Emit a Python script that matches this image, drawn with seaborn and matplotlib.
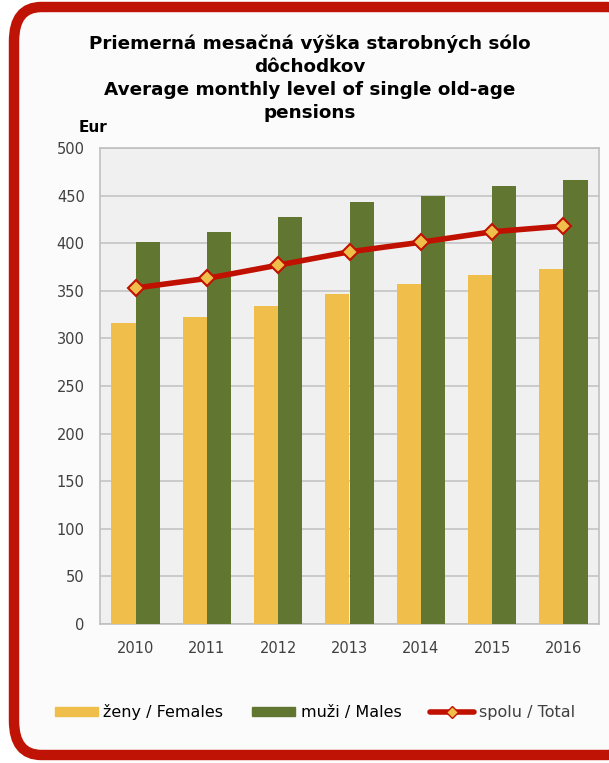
import matplotlib
matplotlib.use("Agg")
import matplotlib.pyplot as plt
import matplotlib.patches as mpatches
from matplotlib.lines import Line2D
import seaborn as sns
import pandas as pd

years = ["2010", "2011", "2012", "2013", "2014", "2015", "2016"]
females = [316, 322, 334, 347, 357, 367, 373]
males = [401, 412, 428, 443, 450, 460, 466]
total = [353, 363, 377, 391, 401, 412, 418]
series_names = ["ženy / Females", "muži / Males", "spolu / Total"]

c_fem = "#f0be4a"
c_male = "#617731"
c_tot = "#c01000"

sns.set_style("white")
plt.rcParams["font.family"] = ["DejaVu Sans"]

df = pd.DataFrame({
    "year": years * 2,
    "value": females + males,
    "sex": [series_names[0]] * len(years) + [series_names[1]] * len(years),
})

fig = plt.figure(figsize=(6.09, 7.63), dpi=100)
fig.patch.set_facecolor("white")

# red rounded frame
frame = mpatches.FancyBboxPatch((14 / 609, 8 / 763), 620 / 609, 748 / 763,
                                boxstyle="round,pad=0,rounding_size=0.045",
                                transform=fig.transFigure, facecolor="#fbfbfb",
                                edgecolor="#bf1405", linewidth=7.5, zorder=-10)
fig.patches.append(frame)

ax = fig.add_axes([100 / 609, 139 / 763, 499 / 609, 476 / 763])
ax.set_facecolor("#f0f0f0")

sns.barplot(data=df, x="year", y="value", hue="sex", palette=[c_fem, c_male],
            width=0.68, gap=0, saturation=1, errorbar=None, linewidth=0,
            ax=ax, zorder=3)
sns.pointplot(x=years, y=total, color=c_tot, markers="D", errorbar=None,
              markersize=8, markerfacecolor=c_fem, markeredgecolor=c_tot,
              markeredgewidth=1.5, linewidth=4, ax=ax, zorder=5)
if ax.get_legend() is not None:
    ax.get_legend().remove()

ax.set_ylim(0, 500)
ax.set_xlim(-0.5, 6.5)
ax.set_yticks(range(0, 501, 50))
ax.yaxis.grid(True, color="#c4c4c4", linewidth=1.2, zorder=0)
ax.set_axisbelow(True)
for s in ax.spines.values():
    s.set_color("#c0c0c0")
    s.set_linewidth(1.2)
ax.tick_params(axis="both", length=0, labelsize=10.5, labelcolor="#404040")
ax.tick_params(axis="x", pad=12)
ax.tick_params(axis="y", pad=11)
ax.set_xlabel("")
ax.set_ylabel("")

fig.text(93 / 609, 1 - 127 / 763, "Eur", ha="center", va="center",
         fontsize=11, fontweight="bold", color="black")
fig.text(310 / 609, 1 - 78 / 763,
         "Priemerná mesačná výška starobných sólo\ndôchodkov\n"
         "Average monthly level of single old-age\npensions",
         ha="center", va="center", fontsize=13.2, fontweight="bold",
         linespacing=1.36, color="black")

handles = [
    mpatches.Patch(color=c_fem, label=series_names[0]),
    mpatches.Patch(color=c_male, label=series_names[1]),
    Line2D([0], [0], color=c_tot, linewidth=4, marker="D", markersize=6,
           markerfacecolor=c_fem, markeredgecolor=c_tot, label=series_names[2]),
]
leg = fig.legend(handles=handles, loc="center", bbox_to_anchor=(315 / 609, 1 - 712 / 763),
                 ncol=3, frameon=False, fontsize=11.5, handlelength=2.7,
                 handleheight=0.55, handletextpad=0.35, columnspacing=1.8)
for t in leg.get_texts()[:2]:
    t.set_color("black")
leg.get_texts()[2].set_color("#404040")

fig.savefig("out.png", dpi=100)
